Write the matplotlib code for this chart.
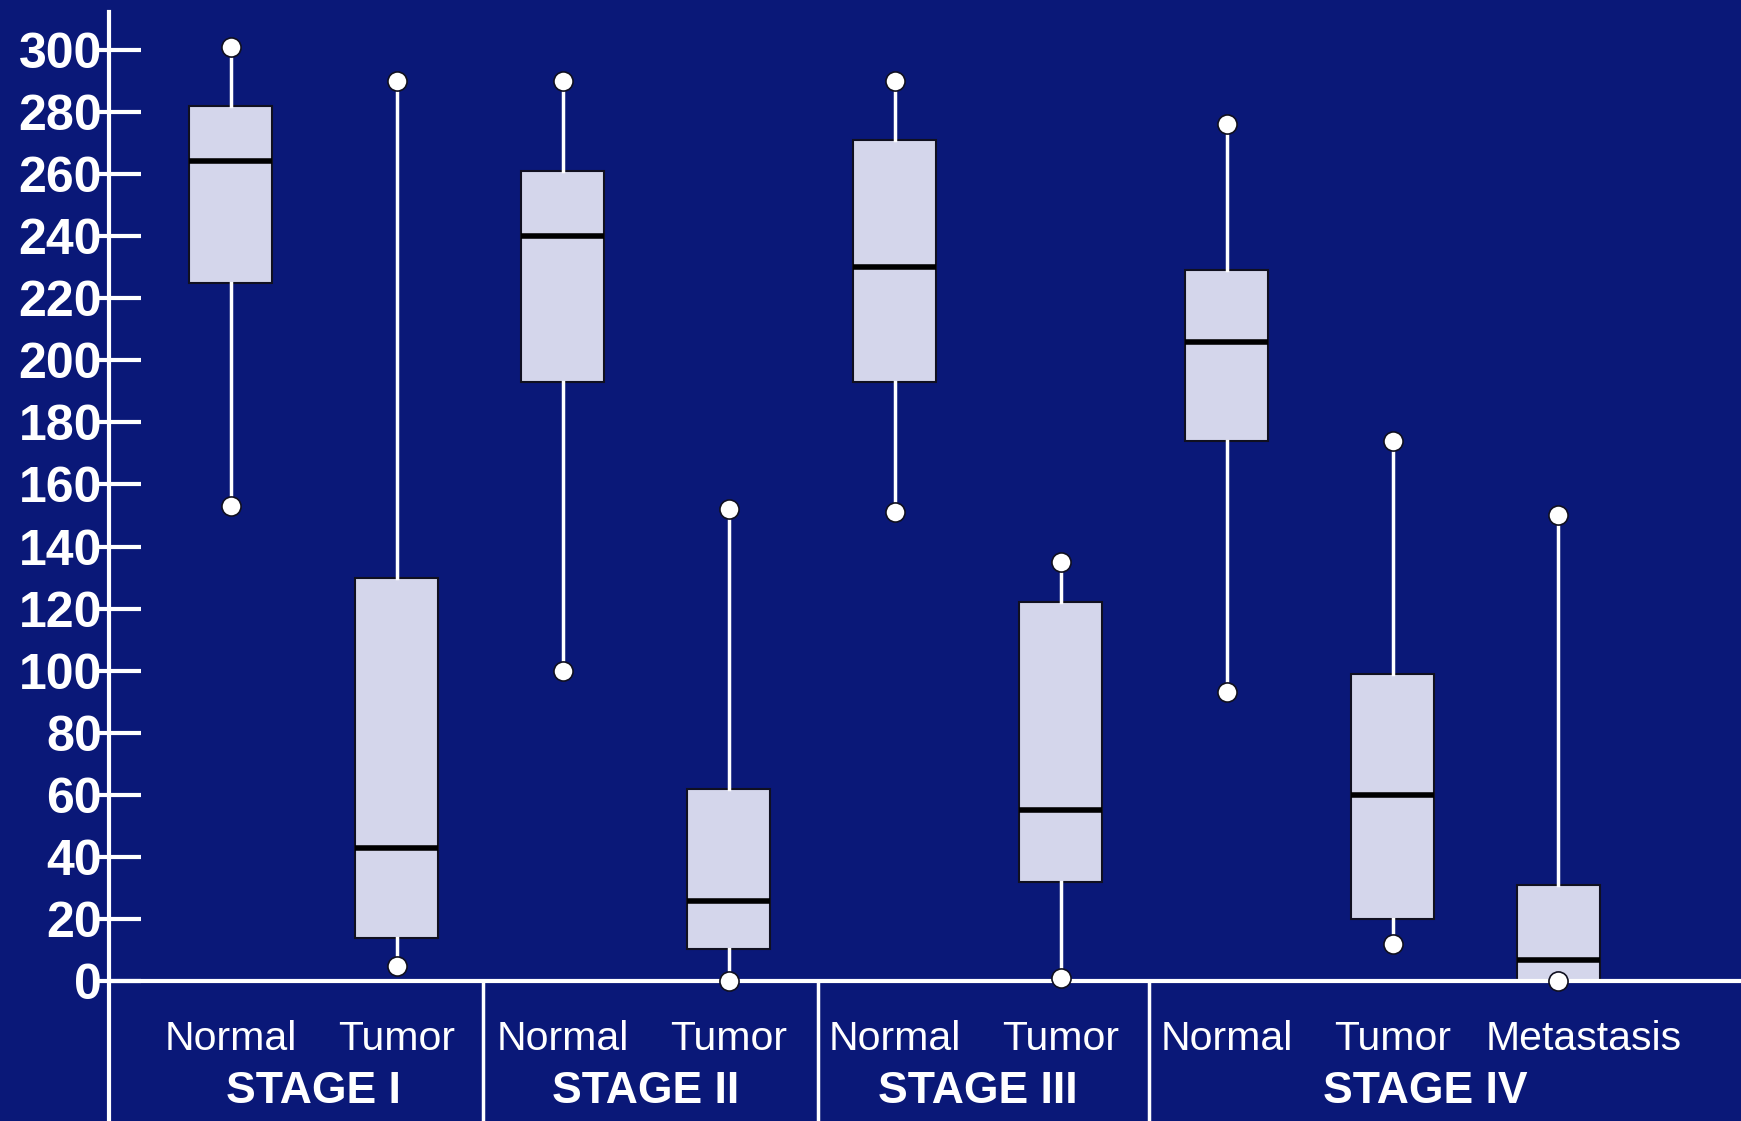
import matplotlib
matplotlib.use('Agg')
import matplotlib.pyplot as plt
import numpy as np

# values
groups = ['Normal', 'Tumor', 'Normal', 'Tumor', 'Normal', 'Tumor', 'Normal', 'Tumor', 'Metastasis']
stages = ['STAGE I', 'STAGE II', 'STAGE III', 'STAGE IV']
whislo = [153, 5, 100, 0, 151, 1, 93, 12, 0]
q1 = [225, 14, 193, 10.5, 193, 32, 174, 20, 0]
med = [264, 43, 240, 26, 230, 55, 206, 60, 7]
q3 = [282, 130, 261, 62, 271, 122, 229, 99, 31]
whishi = [301, 290, 290, 152, 290, 135, 276, 174, 150]
yticks = [0, 20, 40, 60, 80, 100, 120, 140, 160, 180, 200, 220, 240, 260, 280, 300]

bg = '#0a1878'
boxc = '#d4d6eb'

def plot_slide():
    fig = plt.figure(figsize=(17.41, 11.21), dpi=100, facecolor=bg)
    ax = fig.add_axes([109 / 1741, 0, 1 - 109 / 1741, 1], facecolor=bg)

    pos = np.arange(len(groups))
    stats = []
    for i in range(len(groups)):
        stats.append(dict(whislo=whislo[i], q1=q1[i], med=med[i], q3=q3[i],
                          whishi=whishi[i], fliers=[]))
    ax.bxp(stats, positions=pos, widths=0.5, showcaps=False, patch_artist=True,
           boxprops=dict(facecolor=boxc, edgecolor='#101020', linewidth=1.5),
           medianprops=dict(color='black', linewidth=4),
           whiskerprops=dict(color='white', linewidth=2.5), zorder=3)

    ends_x = np.concatenate([pos, pos])
    ends_y = np.concatenate([whislo, whishi])
    ax.scatter(ends_x, ends_y, s=190, facecolor='white', edgecolor='#101020',
               linewidth=1.2, zorder=5)

    # baseline and stage separators
    ax.axhline(0, color='white', lw=3, zorder=4)
    for xs in [1.52, 3.54, 5.53]:
        ax.plot([xs, xs], [-50, 0], color='white', lw=2.5, zorder=4)

    for i, g in enumerate(groups):
        x = 8.15 if g == 'Metastasis' else i
        ax.text(x, -18.6, g, color='white', fontsize=29.5, family='Liberation Sans',
                ha='center', va='center')
    for x, s in zip([0.5, 2.5, 4.5, 7.2], stages):
        ax.text(x, -35.6, s, color='white', fontsize=32, family='Liberation Sans',
                weight='bold', ha='center', va='center')

    ax.set_xlim(-0.735, 9.1)
    ax.set_ylim(-45, 316)
    ax.set_yticks(yticks)
    ax.set_xticks([])
    ax.tick_params(axis='y', direction='inout', length=34, width=3, colors='white',
                   pad=-12, labelsize=36)
    for lab in ax.get_yticklabels():
        lab.set_family('Liberation Sans')
        lab.set_weight('bold')
    # ticks mostly stick inward, so shift them right a little
    for t in ax.yaxis.get_major_ticks():
        t.tick1line.set_marker(matplotlib.markers.TICKRIGHT)
        t.tick1line.set_markersize(23)
    for s in ['top', 'right', 'bottom']:
        ax.spines[s].set_visible(False)
    ax.spines['left'].set_color('white')
    ax.spines['left'].set_linewidth(3)
    ax.spines['left'].set_bounds(-45, 312)
    ax.plot(np.full(len(yticks), -0.735), yticks, ls='none', marker=0,
            markersize=9, mew=3, color='white', clip_on=False)

    plt.savefig('out.png', dpi=100, facecolor=bg)

if __name__ == "__main__":
    plot_slide()
